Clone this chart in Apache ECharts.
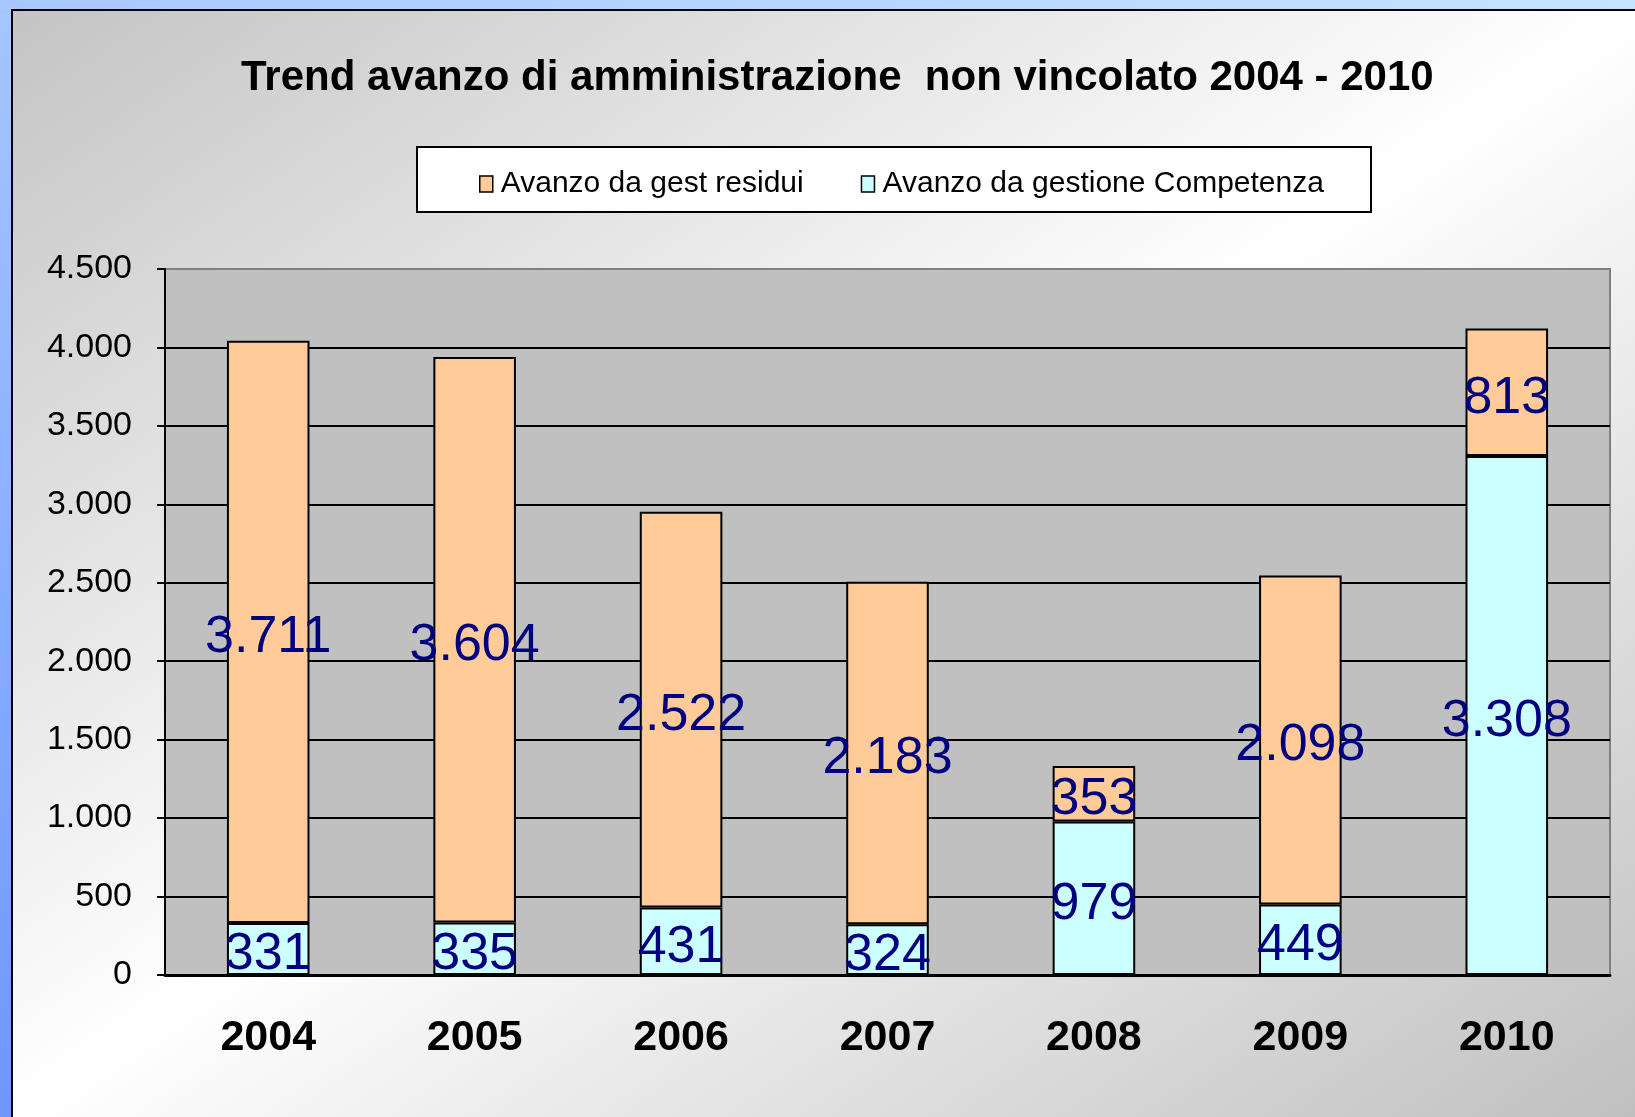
<!DOCTYPE html>
<html lang="it">
<head>
<meta charset="UTF-8">
<title>Trend avanzo di amministrazione</title>
<script src="https://cdn.jsdelivr.net/npm/echarts@6/dist/echarts.min.js"></script>
<style>
    html, body { margin: 0; padding: 0; }
    body {
        width: 1635px; height: 1117px; overflow: hidden; position: relative;
        background: linear-gradient(to bottom, #a6c6ff 0%, #6c98ff 100%);
    }
    #topStrip {
        position: absolute; left: 0; top: 0; width: 1635px; height: 10px;
        background: linear-gradient(to right, #a8c8ff, #c6e4ff);
    }
    #frame {
        position: absolute; left: 11px; top: 9px; right: 0; bottom: 0;
        border-left: 2px solid #000; border-top: 2px solid #000;
        background: linear-gradient(to bottom right, #c4c4c4 0%, #ffffff 50%, #c0c0c0 100%);
    }
    #container { position: absolute; left: 0; top: 0; width: 1635px; height: 1117px; }
</style>
</head>
<body>
<div id="topStrip"></div>
<div id="frame"></div>
<div id="container"></div>

<script type="text/javascript">
    // dati
    const anni = ['2004', '2005', '2006', '2007', '2008', '2009', '2010'];
    const competenza = [331, 335, 431, 324, 979, 449, 3308];
    const residui = [3711, 3604, 2522, 2183, 353, 2098, 813];
    const yMax = 4500;
    const yStep = 500;

    const font = 'Liberation Sans, Arial, sans-serif';

    // 3711 => "3.711"
    function fmt(v) {
        return String(v).replace(/\B(?=(\d{3})+(?!\d))/g, '.');
    }

    const myChart = echarts.init(document.getElementById('container'), null, { renderer: 'canvas' });

    const barLabel = {
        show: true,
        position: 'inside',
        offset: [0, 6],
        color: '#000080',
        fontFamily: font,
        fontSize: 52,
        formatter: p => fmt(p.value)
    };

    const option = {
        animation: false,
        title: {
            text: 'Trend avanzo di amministrazione  non vincolato 2004 - 2010',
            left: 241,
            top: 57,
            padding: 0,
            textStyle: { fontFamily: font, fontSize: 42, fontWeight: 'bold', color: '#000' }
        },
        graphic: [
            {
                type: 'rect',
                shape: { x: 417, y: 147, width: 954, height: 65 },
                style: { fill: '#fff', stroke: '#000', lineWidth: 2 }
            }
        ],
        legend: {
            data: ['Avanzo da gest residui', 'Avanzo da gestione Competenza'],
            left: 479,
            top: 169,
            padding: 0,
            itemGap: 57,
            itemWidth: 13,
            itemHeight: 16,
            icon: 'rect',
            itemStyle: { borderColor: '#000', borderWidth: 1.5 },
            textStyle: { fontFamily: font, fontSize: 30, color: '#000', padding: [0, 0, 0, 3] }
        },
        grid: {
            left: 165, top: 269, right: 25, bottom: 142,
            show: true,
            backgroundColor: '#c0c0c0',
            borderColor: '#808080',
            borderWidth: 2
        },
        xAxis: {
            type: 'category',
            data: anni,
            axisLine: { lineStyle: { color: '#000', width: 3 } },
            axisTick: { length: 10, lineStyle: { color: '#000', width: 2 } },
            axisLabel: { margin: 42, fontFamily: font, fontSize: 43, fontWeight: 'bold', color: '#000' }
        },
        yAxis: {
            type: 'value',
            min: 0,
            max: yMax,
            interval: yStep,
            axisLine: { show: true, lineStyle: { color: '#000', width: 2 } },
            axisTick: { show: true, length: 8, lineStyle: { color: '#000', width: 2 } },
            splitLine: { showMaxLine: false, lineStyle: { color: '#000', width: 2 } },
            axisLabel: { margin: 33, fontFamily: font, fontSize: 34, color: '#000', formatter: v => fmt(v) }
        },
        series: [
            {
                name: 'Avanzo da gestione Competenza',
                type: 'bar',
                stack: 'tot',
                barWidth: '40%',
                data: competenza,
                itemStyle: { color: '#ccffff', borderColor: '#000', borderWidth: 2 },
                label: barLabel
            },
            {
                name: 'Avanzo da gest residui',
                type: 'bar',
                stack: 'tot',
                barWidth: '40%',
                data: residui,
                itemStyle: { color: '#ffcc99', borderColor: '#000', borderWidth: 2 },
                label: barLabel
            }
        ]
    };

    myChart.setOption(option);
</script>
</body>
</html>
